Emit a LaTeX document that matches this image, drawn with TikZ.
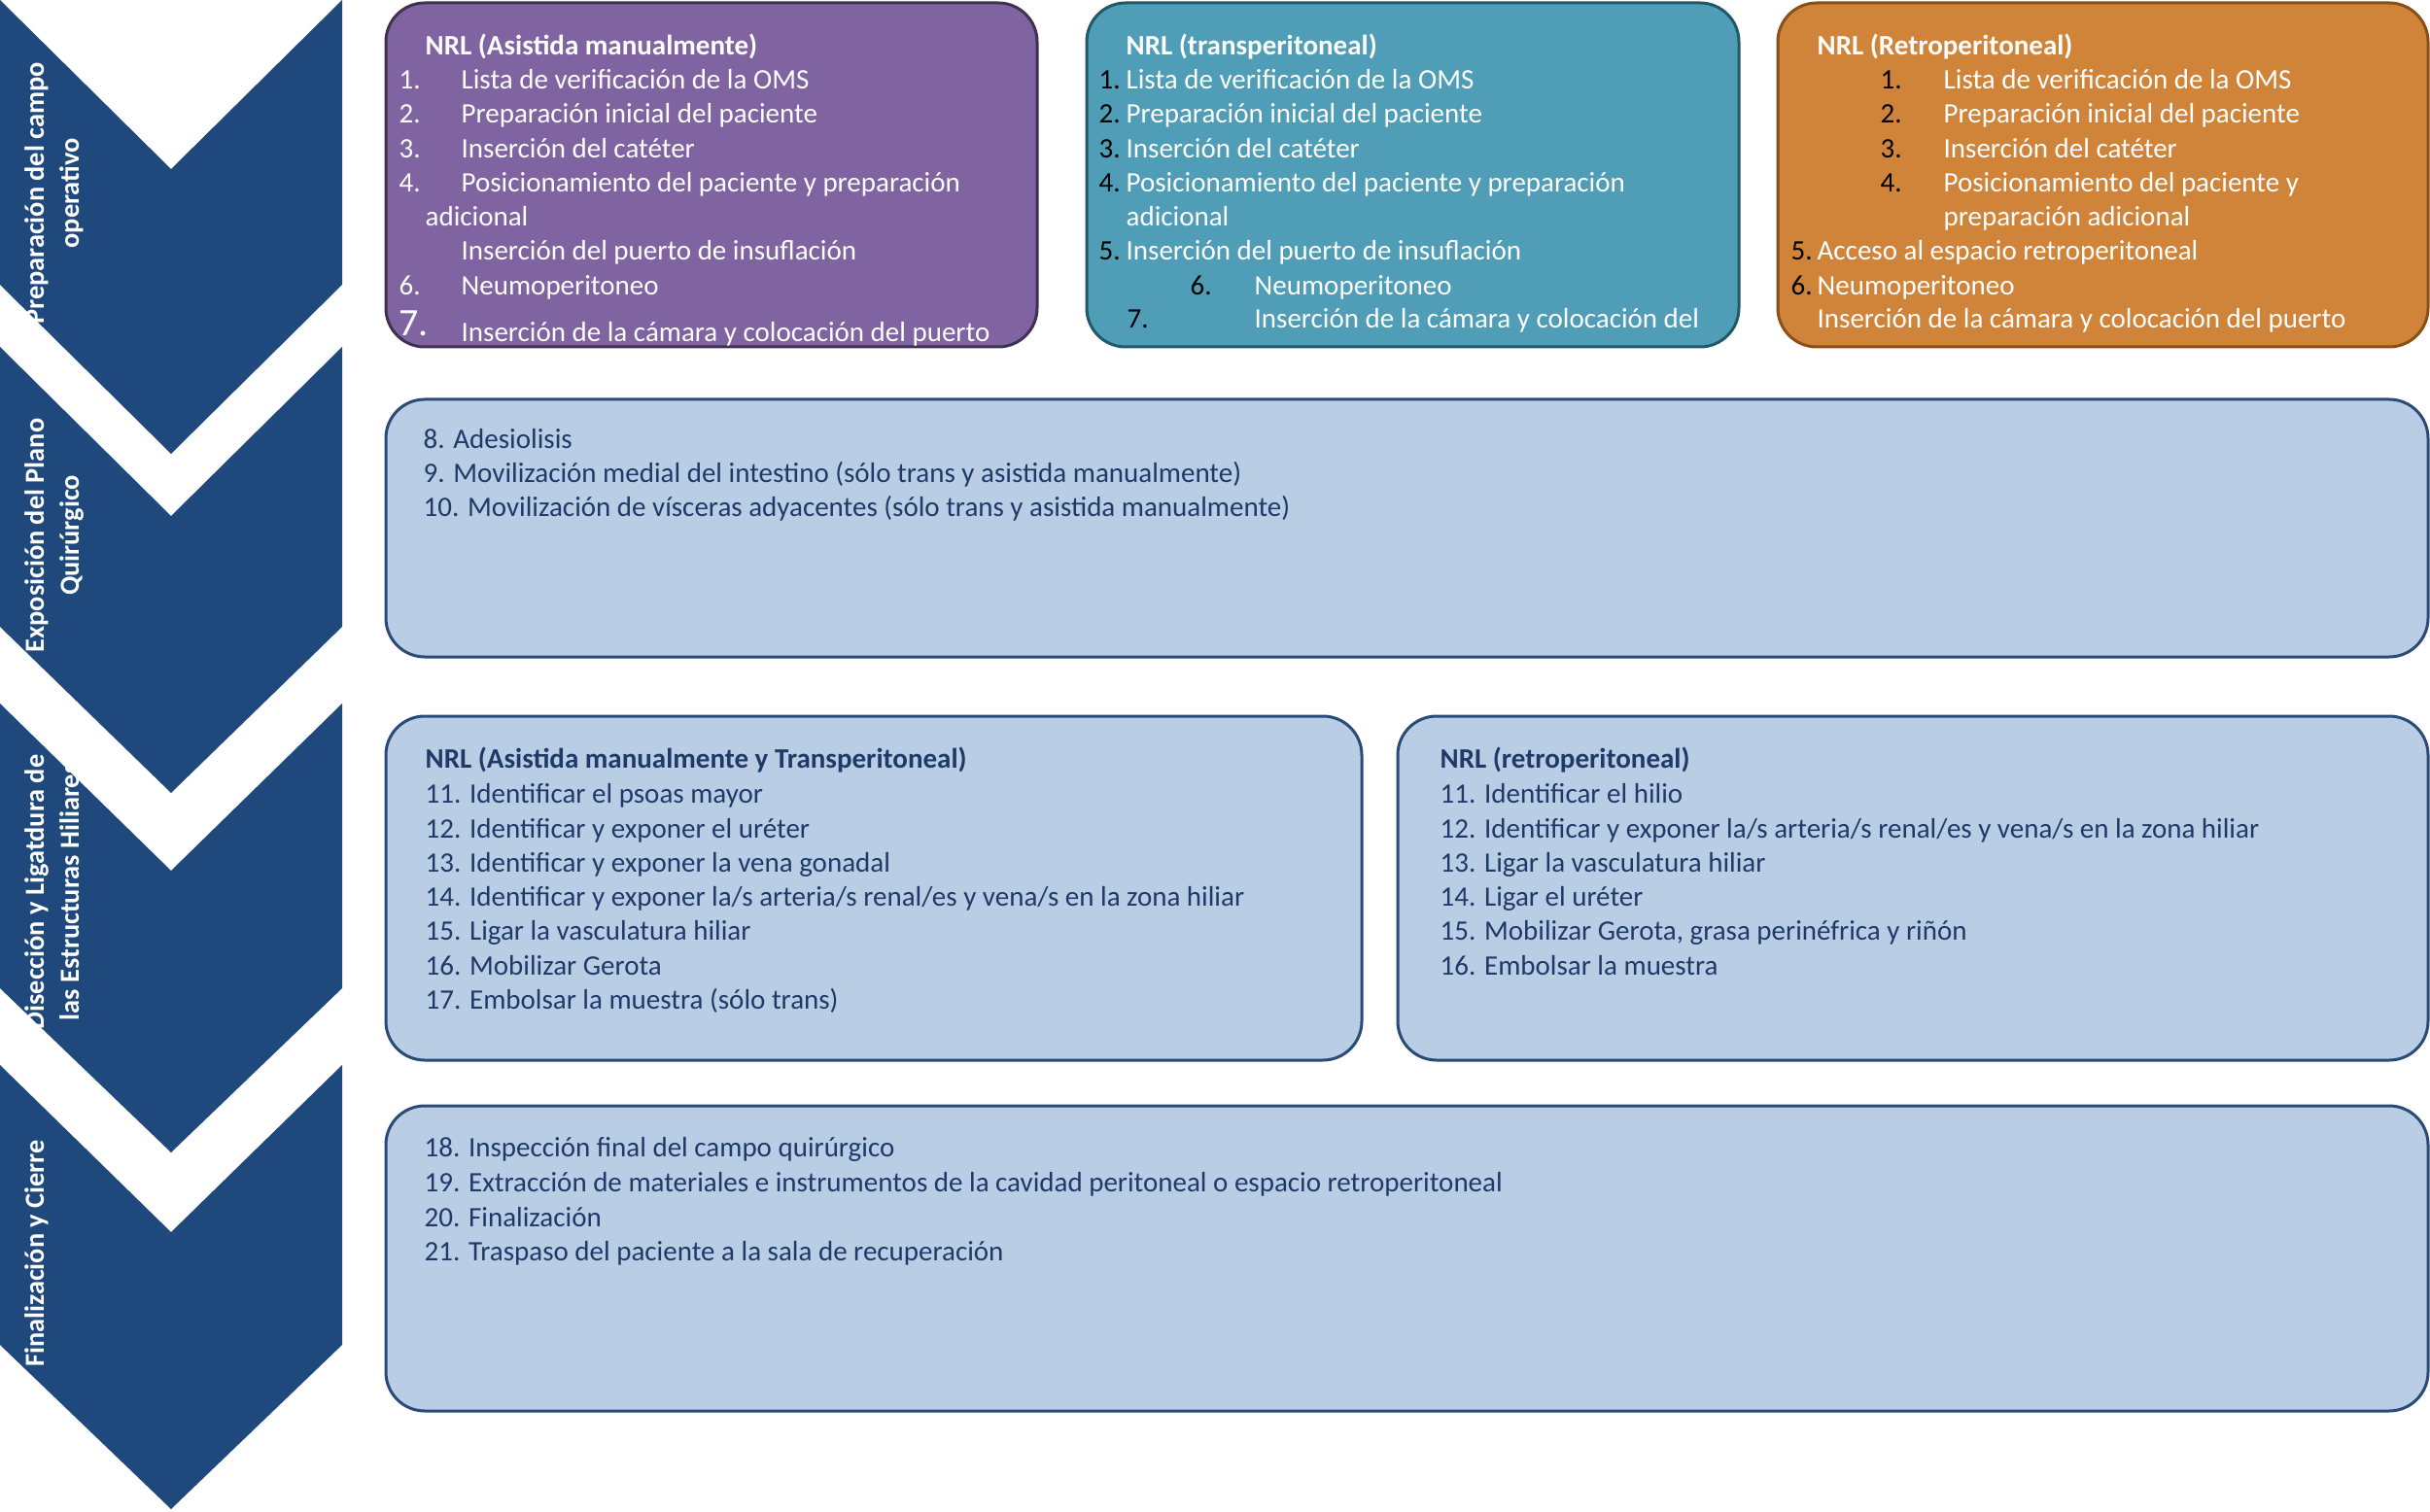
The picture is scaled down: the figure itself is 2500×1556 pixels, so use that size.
\documentclass[tikz,border=0pt]{standalone}
\usepackage{fontspec}
\setmainfont{Carlito}
\definecolor{cChev}{HTML}{1F497D}
\definecolor{cPurp}{HTML}{8064A2}
\definecolor{cPurpD}{HTML}{3F3151}
\definecolor{cTeal}{HTML}{4F9DB6}
\definecolor{cTealD}{HTML}{215968}
\definecolor{cOrng}{HTML}{CF843A}
\definecolor{cOrngD}{HTML}{8A4E17}
\definecolor{cLight}{HTML}{B9CDE5}
\definecolor{cLightD}{HTML}{2A4B77}
\definecolor{cTxt}{HTML}{1F3A68}
\tikzset{
  chevron/.style={fill=cChev, draw=none},
  panel/.style={line width=0.9pt, rounded corners=12pt},
  purpbox/.style={panel, fill=cPurp, draw=cPurpD},
  tealbox/.style={panel, fill=cTeal, draw=cTealD},
  orngbox/.style={panel, fill=cOrng, draw=cOrngD},
  lightbox/.style={panel, fill=cLight, draw=cLightD},
  chevtxt/.style={rotate=90, anchor=base, inner sep=0pt, text=white,
    font=\fontsize{8.5pt}{10pt}\selectfont\bfseries},
  txt/.style={anchor=base west, inner sep=0pt,
    font=\fontsize{8.7pt}{10.4pt}\selectfont},
  wtxt/.style={txt, text=white},
  ktxt/.style={txt, text=black},
  btxt/.style={txt, text=cTxt},
  ttl/.style={font=\fontsize{8.7pt}{10.4pt}\selectfont\bfseries}
}
\begin{document}
\begin{tikzpicture}[x=0.3pt,y=-0.3pt]
\fill[white] (0,0) rectangle (2500,1556);
\useasboundingbox (0,0) rectangle (2500,1556);

% chevrons
\fill[chevron] (0,0) -- (176,174) -- (352,0) -- (352,293) -- (176,467) -- (0,293) -- cycle;
\fill[chevron] (0,357) -- (176,531) -- (352,357) -- (352,645) -- (176,816) -- (0,645) -- cycle;
\fill[chevron] (0,724) -- (176,896) -- (352,724) -- (352,1017) -- (176,1186) -- (0,1017) -- cycle;
\fill[chevron] (0,1096) -- (176,1268) -- (352,1096) -- (352,1384) -- (176,1553) -- (0,1384) -- cycle;

\node[chevtxt] (c1a) at (45,199) {Preparación del campo};
\node[chevtxt] (c1b) at (81,199) {operativo};
\node[chevtxt] (c2a) at (45,551) {Exposición del Plano};
\node[chevtxt] (c2b) at (81,551) {Quirúrgico};
\node[chevtxt] (c3a) at (45,918) {Disección y Ligatdura de};
\node[chevtxt] (c3b) at (81,918) {las Estructuras Hiliares};
\node[chevtxt] (c4a) at (45,1290) {Finalización y Cierre};

% panels
\draw[purpbox] (397,3) rectangle (1067,357);
\draw[tealbox] (1118,3) rectangle (1789,357);
\draw[orngbox] (1829,3) rectangle (2498,357);
\draw[lightbox] (397,411) rectangle (2498,676);
\draw[lightbox] (397,737) rectangle (1401,1091);
\draw[lightbox] (1438,737) rectangle (2498,1091);
\draw[lightbox] (397,1138) rectangle (2498,1452);

% Box A
\node[wtxt,ttl] (a0) at (437,57) {NRL (Asistida manualmente)};
\node[wtxt] (a1n) at (410,92) {1.};
\node[wtxt] (a1) at (474,92) {Lista de verificación de la OMS};
\node[wtxt] (a2n) at (410,127) {2.};
\node[wtxt] (a2) at (474,127) {Preparación inicial del paciente};
\node[wtxt] (a3n) at (410,163) {3.};
\node[wtxt] (a3) at (474,163) {Inserción del catéter};
\node[wtxt] (a4n) at (410,198) {4.};
\node[wtxt] (a4) at (474,198) {Posicionamiento del paciente y preparación};
\node[wtxt] (a4b) at (437,233) {adicional};
\node[wtxt] (a5) at (474,268) {Inserción del puerto de insuflación};
\node[wtxt] (a6n) at (410,304) {6.};
\node[wtxt] (a6) at (474,304) {Neumoperitoneo};
\node[wtxt, font=\fontsize{12pt}{13pt}\selectfont] (a7n) at (410,345) {7.};
\node[wtxt] (a7) at (474,352) {Inserción de la cámara y colocación del puerto};

% Box B
\node[wtxt,ttl] (b0) at (1158,57) {NRL (transperitoneal)};
\node[ktxt] (b1n) at (1130,92) {1.};
\node[wtxt] (b1) at (1158,92) {Lista de verificación de la OMS};
\node[ktxt] (b2n) at (1130,127) {2.};
\node[wtxt] (b2) at (1158,127) {Preparación inicial del paciente};
\node[ktxt] (b3n) at (1130,163) {3.};
\node[wtxt] (b3) at (1158,163) {Inserción del catéter};
\node[ktxt] (b4n) at (1130,198) {4.};
\node[wtxt] (b4) at (1158,198) {Posicionamiento del paciente y preparación};
\node[wtxt] (b4b) at (1158,233) {adicional};
\node[ktxt] (b5n) at (1130,268) {5.};
\node[wtxt] (b5) at (1158,268) {Inserción del puerto de insuflación};
\node[ktxt] (b6n) at (1224,304) {6.};
\node[wtxt] (b6) at (1290,304) {Neumoperitoneo};
\node[ktxt] (b7n) at (1159,338) {7.};
\node[wtxt] (b7) at (1290,338) {Inserción de la cámara y colocación del};

% Box C
\node[wtxt,ttl] (r0) at (1869,57) {NRL (Retroperitoneal)};
\node[ktxt] (r1n) at (1934,92) {1.};
\node[wtxt] (r1) at (1999,92) {Lista de verificación de la OMS};
\node[ktxt] (r2n) at (1934,127) {2.};
\node[wtxt] (r2) at (1999,127) {Preparación inicial del paciente};
\node[ktxt] (r3n) at (1934,163) {3.};
\node[wtxt] (r3) at (1999,163) {Inserción del catéter};
\node[ktxt] (r4n) at (1934,198) {4.};
\node[wtxt] (r4) at (1999,198) {Posicionamiento del paciente y};
\node[wtxt] (r4b) at (1999,233) {preparación adicional};
\node[ktxt] (r5n) at (1842,268) {5.};
\node[wtxt] (r5) at (1869,268) {Acceso al espacio retroperitoneal};
\node[ktxt] (r6n) at (1842,304) {6.};
\node[wtxt] (r6) at (1869,304) {Neumoperitoneo};
\node[wtxt] (r7) at (1869,338) {Inserción de la cámara y colocación del puerto};

% Box D
\node[btxt] (d8) at (435,462) {8. Adesiolisis};
\node[btxt] (d9) at (435,497) {9. Movilización medial del intestino (sólo trans y asistida manualmente)};
\node[btxt] (d10) at (435,532) {10. Movilización de vísceras adyacentes (sólo trans y asistida manualmente)};

% Box E
\node[btxt,ttl] (e0) at (437,790) {NRL (Asistida manualmente y Transperitoneal)};
\node[btxt] (e11) at (437,826) {11. Identificar el psoas mayor};
\node[btxt] (e12) at (437,862) {12. Identificar y exponer el uréter};
\node[btxt] (e13) at (437,897) {13. Identificar y exponer la vena gonadal};
\node[btxt] (e14) at (437,932) {14. Identificar y exponer la/s arteria/s renal/es y vena/s en la zona hiliar};
\node[btxt] (e15) at (437,967) {15. Ligar la vasculatura hiliar};
\node[btxt] (e16) at (437,1003) {16. Mobilizar Gerota};
\node[btxt] (e17) at (437,1038) {17. Embolsar la muestra (sólo trans)};

% Box F
\node[btxt,ttl] (f0) at (1481,790) {NRL (retroperitoneal)};
\node[btxt] (f11) at (1481,826) {11. Identificar el hilio};
\node[btxt] (f12) at (1481,862) {12. Identificar y exponer la/s arteria/s renal/es y vena/s en la zona hiliar};
\node[btxt] (f13) at (1481,897) {13. Ligar la vasculatura hiliar};
\node[btxt] (f14) at (1481,932) {14. Ligar el uréter};
\node[btxt] (f15) at (1481,967) {15. Mobilizar Gerota, grasa perinéfrica y riñón};
\node[btxt] (f16) at (1481,1003) {16. Embolsar la muestra};

% Box G
\node[btxt] (g18) at (436,1190) {18. Inspección final del campo quirúrgico};
\node[btxt] (g19) at (436,1226) {19. Extracción de materiales e instrumentos de la cavidad peritoneal o espacio retroperitoneal};
\node[btxt] (g20) at (436,1262) {20. Finalización};
\node[btxt] (g21) at (436,1297) {21. Traspaso del paciente a la sala de recuperación};
\end{tikzpicture}
\end{document}
